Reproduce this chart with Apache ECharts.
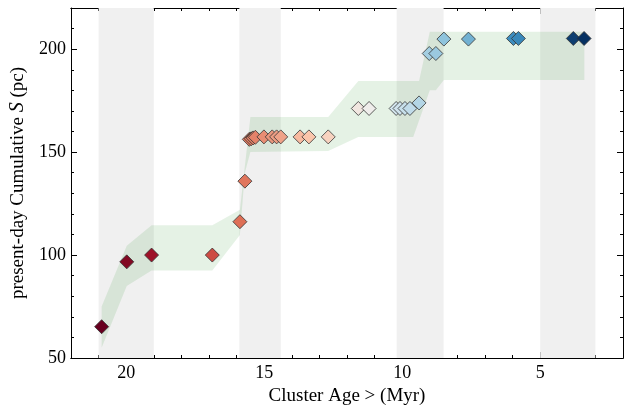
<!DOCTYPE html>
<html>
<head>
<meta charset="utf-8">
<script src="https://cdn.jsdelivr.net/npm/echarts@6/dist/echarts.min.js"></script>
<style>
html,body{margin:0;padding:0;background:#fff;}
#chart{width:636px;height:405px;}
</style>
</head>
<body>
<div id="chart"></div>
<script>
// ---- data ----
var ages = [20.89, 19.98, 19.08, 16.88, 15.88, 15.70, 15.54, 15.47, 15.40, 15.32, 15.01, 14.71, 14.55, 14.40, 13.70, 13.38, 12.68, 11.59, 11.20, 10.22, 10.08, 9.90, 9.72, 9.39, 9.02, 8.78, 8.49, 7.60, 5.97, 5.79, 3.80, 3.41];
var cumS = [65.2, 96.7, 100, 100, 116.2, 135.9, 156.2, 156.5, 156.9, 157.2, 157.4, 157.4, 157.4, 157.4, 157.4, 157.4, 157.4, 171.2, 171.2, 171.2, 171.2, 171.2, 171.2, 173.9, 197.9, 197.9, 204.9, 204.9, 205.2, 205.2, 205.2, 205.2];

var bandUpperAge = [20.89, 19.98, 19.08, 16.88, 15.88, 15.50, 12.68, 11.59, 9.39, 9.00, 3.40];
var bandUpperS   = [75, 104.5, 114.5, 114.5, 122, 167, 167, 184.5, 184.5, 208.5, 208.5];
var bandLowerAge = [20.89, 19.98, 19.08, 16.88, 15.88, 15.70, 15.50, 12.68, 11.59, 9.60, 9.00, 8.78, 8.49, 3.40];
var bandLowerS   = [55, 85, 92.5, 92.5, 109.7, 140, 150, 150.5, 157.4, 157.4, 180, 180, 185, 185];

var grayStart = [21.0, 15.9, 10.2, 5.0];
var grayEnd   = [19.0, 14.4, 8.5, 3.0];

var xMajorTicks = [5, 10, 15, 20];
var xMinorTicks = [3, 4, 6, 7, 8, 9, 11, 12, 13, 14, 16, 17, 18, 19, 21];

// colour scale (young -> old), evenly spaced over the age range
var ageColorStops = ['#053061', '#3c8cbe', '#8cc2dc', '#eef2f4', '#fac5aa', '#de6e55', '#b2182b', '#67001f'];

// ---- chart ----
var FONT = 'Liberation Serif';
var chart = echarts.init(document.getElementById('chart'), null, {renderer: 'canvas'});

var pts = ages.map(function (a, i) { return [a, cumS[i]]; });
var grayData = grayStart.map(function (s, i) { return [s, grayEnd[i]]; });

var gridRect = {left: 71, right: 13, top: 8, bottom: 47, containLabel: false, outerBoundsMode: 'none'};

function xAx(gridIndex, pos, major, showLabel, name) {
  return {
    type: 'value', gridIndex: gridIndex, position: pos, min: 2, max: 22, inverse: true,
    axisLine: {show: true, lineStyle: {color: '#000', width: 1}},
    axisTick: {show: true, inside: true, length: major ? 6 : 3, customValues: major ? xMajorTicks : xMinorTicks, lineStyle: {color: '#000', width: 1}},
    axisLabel: {show: showLabel, customValues: xMajorTicks, color: '#000', fontFamily: FONT, fontSize: 18, margin: 6},
    splitLine: {show: false},
    name: name || '', nameLocation: 'middle', nameGap: 26,
    nameTextStyle: {color: '#000', fontFamily: FONT, fontSize: 19}
  };
}
function yAx(gridIndex, pos, showLabel, show, name) {
  return {
    type: 'value', gridIndex: gridIndex, position: pos, min: 50, max: 220, interval: 50, show: show,
    axisLine: {show: true, lineStyle: {color: '#000', width: 1}},
    axisTick: {show: true, inside: true, length: 6, lineStyle: {color: '#000', width: 1}},
    minorTick: {show: true, splitNumber: 5, length: 3, lineStyle: {color: '#000', width: 1}},
    axisLabel: {show: showLabel, showMaxLabel: false, color: '#000', fontFamily: FONT, fontSize: 18, margin: 5},
    splitLine: {show: false}, minorSplitLine: {show: false},
    name: name || '', nameLocation: 'middle', nameGap: 42, nameRotate: 90,
    nameTextStyle: {color: '#000', fontFamily: FONT, fontSize: 19,
      rich: {i: {fontStyle: 'italic', fontFamily: FONT, fontSize: 20, color: '#000'}}}
  };
}

var option = {
  animation: false,
  backgroundColor: '#fff',
  grid: [
    Object.assign({}, gridRect),
    Object.assign({}, gridRect)
  ],
  xAxis: [
    xAx(0, 'bottom', true, true, 'Cluster Age > (Myr)'),
    xAx(0, 'top', true, false),
    xAx(1, 'bottom', false, false),
    xAx(1, 'top', false, false)
  ],
  yAxis: [
    yAx(0, 'left', true, true, 'present-day Cumulative {i|S} (pc)'),
    yAx(0, 'right', false, true),
    yAx(1, 'left', false, false),
    yAx(1, 'right', false, false)
  ],
  visualMap: {
    show: false, type: 'continuous', seriesIndex: 2, dimension: 0,
    min: 3.41, max: 20.89,
    inRange: {color: ageColorStops}
  },
  series: [
    {
      type: 'custom', xAxisIndex: 0, yAxisIndex: 0, z: 1, silent: true,
      data: grayData,
      renderItem: function (params, api) {
        var cs = params.coordSys;
        var p1 = api.coord([api.value(0), 50]);
        var p2 = api.coord([api.value(1), 50]);
        var x = Math.min(p1[0], p2[0]), w = Math.abs(p2[0] - p1[0]);
        return {type: 'rect', shape: {x: x, y: cs.y, width: w, height: cs.height}, style: {fill: '#f0f0f0'}};
      }
    },
    {
      type: 'custom', xAxisIndex: 0, yAxisIndex: 0, z: 2, silent: true,
      data: [[bandUpperAge[0], bandUpperS[0]]],
      renderItem: function (params, api) {
        var poly = [];
        for (var i = 0; i < bandUpperAge.length; i++) poly.push(api.coord([bandUpperAge[i], bandUpperS[i]]));
        for (var j = bandLowerAge.length - 1; j >= 0; j--) poly.push(api.coord([bandLowerAge[j], bandLowerS[j]]));
        return {type: 'polygon', shape: {points: poly}, style: {fill: 'rgba(0,128,0,0.1)'}};
      }
    },
    {
      type: 'scatter', xAxisIndex: 0, yAxisIndex: 0, z: 5,
      data: pts, symbol: 'diamond', symbolSize: 14,
      itemStyle: {borderColor: '#333', borderWidth: 0.8, opacity: 1}
    }
  ]
};
chart.setOption(option);
</script>
</body>
</html>
